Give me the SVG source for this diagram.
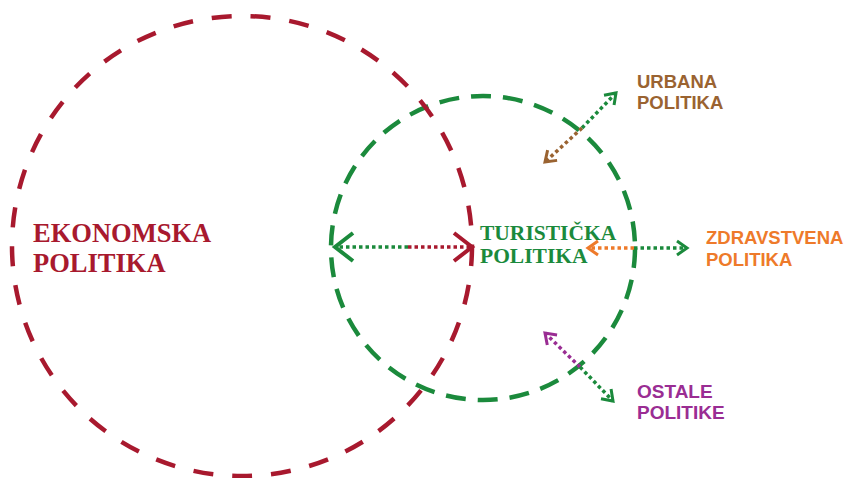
<svg xmlns="http://www.w3.org/2000/svg" width="846" height="478" viewBox="0 0 846 478">
<style>
.circ{fill:none;stroke-width:4.5}
.dot{fill:none;stroke-width:3.5;stroke-dasharray:3.5 3}
.serif{font-family:"Liberation Serif","Times New Roman",serif;font-weight:bold}
.sans{font-family:"Liberation Sans",Arial,sans-serif;font-weight:bold}
</style>
<defs>
<marker id="bigG" markerUnits="userSpaceOnUse" viewBox="-30 -20 40 40" markerWidth="40" markerHeight="40" refX="0" refY="0" orient="auto"><path d="M-18,-14 L0,0 L-18,14" fill="none" stroke="#1b8a3c" stroke-width="4"/></marker>
<marker id="bigR" markerUnits="userSpaceOnUse" viewBox="-30 -20 40 40" markerWidth="40" markerHeight="40" refX="0" refY="0" orient="auto"><path d="M-18,-14 L0,0 L-18,14" fill="none" stroke="#a8192e" stroke-width="4"/></marker>
<marker id="sG" markerUnits="userSpaceOnUse" viewBox="-20 -15 30 30" markerWidth="30" markerHeight="30" refX="0" refY="0" orient="auto"><path d="M-10,-7 L0,0 L-10,7" fill="none" stroke="#1b8a3c" stroke-width="3"/></marker>
<marker id="sO" markerUnits="userSpaceOnUse" viewBox="-20 -15 30 30" markerWidth="30" markerHeight="30" refX="0" refY="0" orient="auto"><path d="M-10,-7 L0,0 L-10,7" fill="none" stroke="#ee7a2a" stroke-width="3"/></marker>
<marker id="sB" markerUnits="userSpaceOnUse" viewBox="-20 -15 30 30" markerWidth="30" markerHeight="30" refX="0" refY="0" orient="auto"><path d="M-10,-7 L0,0 L-10,7" fill="none" stroke="#9a6331" stroke-width="3"/></marker>
<marker id="sP" markerUnits="userSpaceOnUse" viewBox="-20 -15 30 30" markerWidth="30" markerHeight="30" refX="0" refY="0" orient="auto"><path d="M-10,-7 L0,0 L-10,7" fill="none" stroke="#9a2d93" stroke-width="3"/></marker>
</defs>
<rect width="846" height="478" fill="#ffffff"/>
<g id="turisticka">
<circle class="circ" cx="483" cy="248" r="152" stroke="#1b8a3c" stroke-dasharray="20 12"/>
<text class="serif" fill="#1b8a3c" font-size="21.5" x="480" y="240">TURISTIČKA</text>
<text class="serif" fill="#1b8a3c" font-size="21.5" x="480" y="263">POLITIKA</text>
</g>
<g id="ekonomska">
<circle class="circ" cx="242" cy="246" r="230" stroke="#a8192e" stroke-dasharray="20 19"/>
<text class="serif" fill="#a8192e" font-size="26.5" x="33" y="242">EKONOMSKA</text>
<text class="serif" fill="#a8192e" font-size="26.5" x="33" y="272">POLITIKA</text>
</g>
<g id="urbana">
<text class="sans" fill="#9a6331" font-size="18.5" x="637" y="88">URBANA</text>
<text class="sans" fill="#9a6331" font-size="18.5" x="637" y="109">POLITIKA</text>
</g>
<g id="zdravstvena">
<text class="sans" fill="#ee7a2a" font-size="18.5" x="706" y="244">ZDRAVSTVENA</text>
<text class="sans" fill="#ee7a2a" font-size="18.5" x="706" y="266">POLITIKA</text>
</g>
<g id="ostale">
<text class="sans" fill="#9a2d93" font-size="19" x="637" y="398">OSTALE</text>
<text class="sans" fill="#9a2d93" font-size="19" x="637" y="419">POLITIKE</text>
</g>
<g id="connectors">
<line class="dot" x1="408" y1="247" x2="335" y2="247" stroke="#1b8a3c" marker-end="url(#bigG)"/>
<line class="dot" x1="408" y1="247" x2="472" y2="247" stroke="#a8192e" marker-end="url(#bigR)"/>
<line class="dot" x1="582" y1="128" x2="616" y2="93" stroke="#1b8a3c" marker-end="url(#sG)"/>
<line class="dot" x1="582" y1="128" x2="545" y2="162" stroke="#9a6331" marker-end="url(#sB)"/>
<line class="dot" x1="634" y1="248" x2="588" y2="248" stroke="#ee7a2a" marker-end="url(#sO)"/>
<line class="dot" x1="634" y1="248" x2="687" y2="248" stroke="#1b8a3c" marker-end="url(#sG)"/>
<line class="dot" x1="580" y1="367" x2="545" y2="333" stroke="#9a2d93" marker-end="url(#sP)"/>
<line class="dot" x1="580" y1="367" x2="613" y2="401" stroke="#1b8a3c" marker-end="url(#sG)"/>
</g>
</svg>
